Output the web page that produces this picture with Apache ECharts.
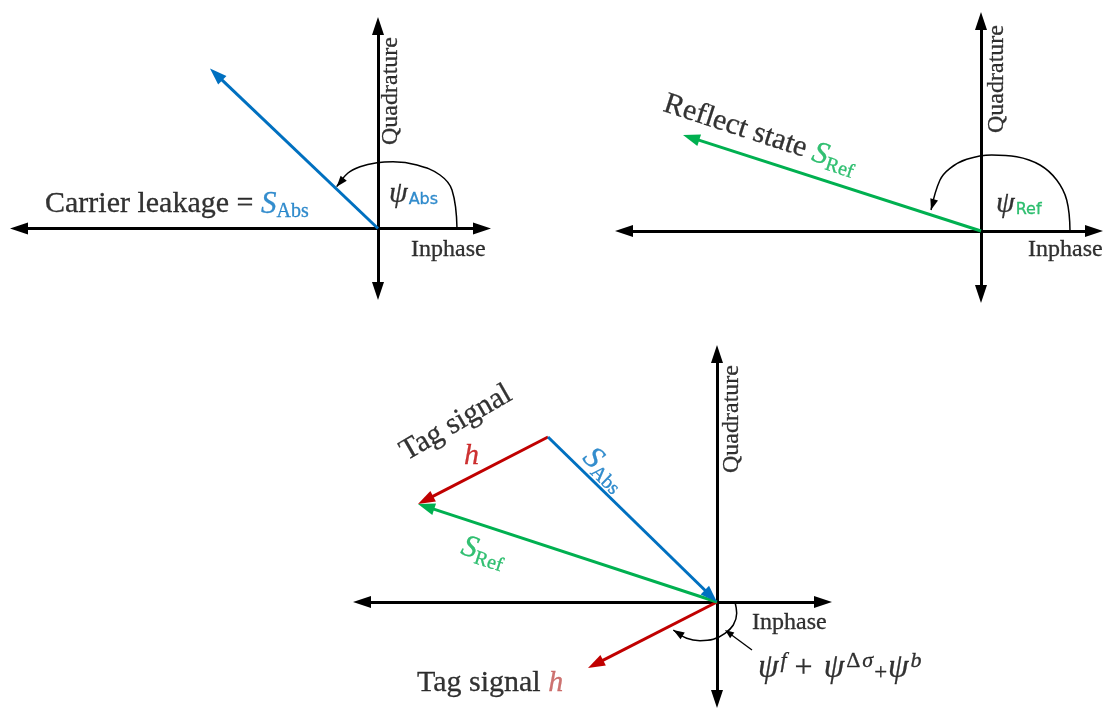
<!DOCTYPE html>
<html>
<head>
<meta charset="utf-8">
<script src="https://cdn.jsdelivr.net/npm/echarts@6/dist/echarts.min.js"></script>
<style>
  html, body { margin: 0; padding: 0; background: #fff; }
  #main { width: 1103px; height: 710px; }
</style>
</head>
<body>
<div id="main"></div>
<script>
// ---- Phasors (I, Q) ----
const leakageVector = [-1.68, 1.60];   // top-left panel: S_Abs
const reflectVector = [-2.98, 0.96];   // top-right panel: S_Ref
const sumAbsVector  = [-1.69, 1.65];   // bottom panel: S_Abs
const sumRefVector  = [-2.99, 0.98];   // bottom panel: S_Ref = S_Abs + h
const tagVector     = [-1.29, -0.66];  // bottom panel: h drawn from the origin

// ---- Angle arcs (I, Q points along each arc, last point is the arrow tip) ----
const psiAbsArc = [[0.79, 0.0], [0.74, 0.385], [0.62, 0.535], [0.39, 0.635], [0.15, 0.668],
                   [-0.01, 0.658], [-0.18, 0.618], [-0.30, 0.555], [-0.413, 0.418]];
const psiRefArc = [[0.89, 0.0], [0.857, 0.31], [0.757, 0.51], [0.59, 0.66], [0.357, 0.743],
                   [0.107, 0.76], [-0.143, 0.717], [-0.31, 0.627], [-0.41, 0.51], [-0.50, 0.21]];
const phaseArc  = [[0.18, 0.0], [0.197, -0.113], [0.163, -0.23], [0.08, -0.313], [-0.037, -0.373],
                   [-0.17, -0.387], [-0.303, -0.363], [-0.437, -0.28]];
const phasePointer = [[0.35, -0.48], [0.08, -0.28]];

// ---- Axis extents per panel: I range, Q range ----
const rangeA = { i: [-3.59, 1.04], q: [-0.625, 2.025] };
const rangeB = { i: [-3.57, 1.13], q: [-0.63, 2.10] };
const rangeC = { i: [-3.55, 1.06], q: [-0.97, 2.48] };

// ---- Layout (pixel origin of each panel, pixels per unit) ----
const PX = 100;
const originA = [378, 228.5];
const originB = [981, 231];
const originC = [717, 602];

const BLUE = '#0070C0', GREEN = '#00B050', RED = '#C00000', SOFT_RED = '#C0504D', BLACK = '#000';
const SERIF = "'Liberation Serif', 'Times New Roman', serif";
const SANS = "'DejaVu Sans', 'Noto Sans', sans-serif";

function gridFor(origin, r) {
  return {
    left: origin[0] + r.i[0] * PX,
    top: origin[1] - r.q[1] * PX,
    width: (r.i[1] - r.i[0]) * PX,
    height: (r.q[1] - r.q[0]) * PX,
    containLabel: false
  };
}

function arrowAxis(idx, ext) {
  return {
    type: 'value', gridIndex: idx, min: ext[0], max: ext[1],
    axisLine: {
      show: true, onZero: true,
      symbol: ['triangle', 'triangle'], symbolSize: [12, 18],
      lineStyle: { color: BLACK, width: 3 }
    },
    axisTick: { show: false }, axisLabel: { show: false }, splitLine: { show: false }
  };
}

// Straight phasor with a filled triangular head whose tip sits on the end point.
function arrowRenderer(color, lineWidth, headLen, headWidth, drawShaft) {
  return function (params, api) {
    const a = api.coord([api.value(0), api.value(1)]);
    const b = api.coord([api.value(2), api.value(3)]);
    const dx = b[0] - a[0], dy = b[1] - a[1];
    const len = Math.hypot(dx, dy) || 1;
    const ux = dx / len, uy = dy / len;
    const bx = b[0] - ux * headLen, by = b[1] - uy * headLen;
    const hw = headWidth / 2;
    const children = [];
    if (drawShaft) {
      children.push({
        type: 'line',
        shape: { x1: a[0], y1: a[1], x2: bx + ux * 2, y2: by + uy * 2 },
        style: { stroke: color, lineWidth: lineWidth, lineCap: 'butt' }
      });
    }
    children.push({
      type: 'polygon',
      shape: { points: [[b[0], b[1]], [bx - uy * hw, by + ux * hw], [bx + uy * hw, by - ux * hw]] },
      style: { fill: color }
    });
    return { type: 'group', children: children };
  };
}

function vectorSeries(g, from, to, color) {
  return {
    type: 'custom', xAxisIndex: g, yAxisIndex: g, clip: false, silent: true, z: 3,
    renderItem: arrowRenderer(color, 3, 17, 12, true),
    encode: { x: [0, 2], y: [1, 3] },
    data: [[from[0], from[1], to[0], to[1]]]
  };
}

function arcSeries(g, pts) {
  const n = pts.length;
  return [
    {
      type: 'line', xAxisIndex: g, yAxisIndex: g, smooth: 0.4, showSymbol: false, silent: true, z: 3,
      lineStyle: { color: BLACK, width: 1.5 }, data: pts
    },
    {
      type: 'custom', xAxisIndex: g, yAxisIndex: g, clip: false, silent: true, z: 4,
      renderItem: arrowRenderer(BLACK, 1.5, 11, 8, false),
      encode: { x: [0, 2], y: [1, 3] },
      data: [[pts[n - 2][0], pts[n - 2][1], pts[n - 1][0], pts[n - 1][1]]]
    }
  ];
}

// Rich text styles: main glyphs are top-aligned in the line, subscripts are pushed
// down with top padding; in the formula everything is bottom-aligned and the
// superscripts are lifted with bottom padding.
const RICH = {
  t:    { fontFamily: SERIF, fontSize: 30, color: BLACK, lineHeight: 30, verticalAlign: 'top' },
  sB:   { fontFamily: SERIF, fontStyle: 'italic', fontSize: 31, color: BLUE, lineHeight: 30, verticalAlign: 'top' },
  subB: { fontFamily: SERIF, fontSize: 20, color: BLUE, lineHeight: 33, padding: [13, 0, 0, 0], verticalAlign: 'top' },
  sG:   { fontFamily: SERIF, fontStyle: 'italic', fontSize: 31, color: GREEN, lineHeight: 30, verticalAlign: 'top' },
  subG: { fontFamily: SERIF, fontSize: 20, color: GREEN, lineHeight: 33, padding: [13, 0, 0, 0], verticalAlign: 'top' },
  psi:  { fontFamily: SERIF, fontStyle: 'italic', fontSize: 30, color: BLACK, lineHeight: 30, verticalAlign: 'top' },
  pB:   { fontFamily: SANS, fontSize: 16, color: BLUE, lineHeight: 29, padding: [13, 0, 0, 1], verticalAlign: 'top' },
  pG:   { fontFamily: SANS, fontSize: 16, color: GREEN, lineHeight: 29, padding: [13, 0, 0, 1], verticalAlign: 'top' },
  hR:   { fontFamily: SERIF, fontStyle: 'italic', fontSize: 30, color: RED, lineHeight: 30, verticalAlign: 'top' },
  hS:   { fontFamily: SERIF, fontStyle: 'italic', fontSize: 30, color: SOFT_RED, lineHeight: 30, verticalAlign: 'top' },
  ax:   { fontFamily: SERIF, fontSize: 24, color: BLACK, lineHeight: 24, verticalAlign: 'top' },
  fm:   { fontFamily: SERIF, fontStyle: 'italic', fontSize: 33, color: BLACK, lineHeight: 33, verticalAlign: 'bottom' },
  fp:   { fontFamily: SERIF, fontSize: 32, color: BLACK, lineHeight: 33, padding: [0, 11, 0, 8], verticalAlign: 'bottom' },
  fs:   { fontFamily: SERIF, fontSize: 23, color: BLACK, lineHeight: 23, padding: [0, 1, 0, 1], verticalAlign: 'bottom' },
  up:   { fontFamily: SERIF, fontStyle: 'italic', fontSize: 22, color: BLACK, lineHeight: 34, padding: [0, 0, 12, 2], verticalAlign: 'bottom' },
  upR:  { fontFamily: SERIF, fontSize: 22, color: BLACK, lineHeight: 34, padding: [0, 0, 12, 2], verticalAlign: 'bottom' }
};
// A hairline outline in the glyph colour gives the printed weight of the labels.
Object.keys(RICH).forEach(function (k) {
  RICH[k].textBorderColor = RICH[k].color;
  RICH[k].textBorderWidth = 0.3;
});

function labelSeries(g, items) {
  return {
    type: 'scatter', xAxisIndex: g, yAxisIndex: g, symbolSize: 0, silent: true, z: 6,
    itemStyle: { color: BLACK },
    emphasis: { disabled: true },
    data: items.map(function (it) {
      return {
        value: it.at,
        label: {
          show: true, position: 'inside', formatter: it.text, rotate: it.rotate || 0,
          align: 'left', verticalAlign: 'top', rich: RICH,
          fontFamily: SERIF, fontSize: 30, color: BLACK
        }
      };
    })
  };
}

const series = [];

// Top-left: carrier leakage S_Abs with its phase psi_Abs
series.push(vectorSeries(0, [0, 0], leakageVector, BLUE));
series.push.apply(series, arcSeries(0, psiAbsArc));
series.push(labelSeries(0, [
  { at: [-3.33, 0.395], text: '{t|Carrier leakage = }{sB|S}{subB|Abs}' },
  { at: [0.11, 0.495], text: '{psi|ψ}{pB|Abs}' },
  { at: [0.33, -0.095], text: '{ax|Inphase}' },
  { at: [0.01, 0.835], text: '{ax|Quadrature}', rotate: 90 }
]));

// Top-right: reflect state S_Ref with its phase psi_Ref
series.push(vectorSeries(1, [0, 0], reflectVector, GREEN));
series.push.apply(series, arcSeries(1, psiRefArc));
series.push(labelSeries(1, [
  { at: [-3.12, 1.42], text: '{t|Reflect state }{sG|S}{subG|Ref}', rotate: -18 },
  { at: [0.15, 0.42], text: '{psi|ψ}{pG|Ref}' },
  { at: [0.47, -0.07], text: '{ax|Inphase}' },
  { at: [0.04, 0.98], text: '{ax|Quadrature}', rotate: 90 }
]));

// Bottom: S_Ref = S_Abs + h, and the tag signal h from the origin
series.push(vectorSeries(2, [0, 0], tagVector, RED));
series.push(vectorSeries(2, sumAbsVector, sumRefVector, RED));
series.push(vectorSeries(2, [0, 0], sumRefVector, GREEN));
series.push(vectorSeries(2, sumAbsVector, [0, 0], BLUE));
series.push.apply(series, arcSeries(2, phaseArc));
series.push({
  type: 'custom', xAxisIndex: 2, yAxisIndex: 2, clip: false, silent: true, z: 4,
  renderItem: arrowRenderer(BLACK, 1.3, 9, 7, true),
  encode: { x: [0, 2], y: [1, 3] },
  data: [[phasePointer[0][0], phasePointer[0][1], phasePointer[1][0], phasePointer[1][1]]]
});
series.push(labelSeries(2, [
  { at: [-3.22, 1.61], text: '{t|Tag signal}', rotate: 30 },
  { at: [-2.53, 1.61], text: '{hR|h}' },
  { at: [-1.19, 1.60], text: '{sB|S}{subB|Abs}', rotate: -44 },
  { at: [-2.50, 0.71], text: '{sG|S}{subG|Ref}', rotate: -18 },
  { at: [-3.00, -0.66], text: '{t|Tag signal }{hS|h}' },
  { at: [0.41, -0.485], text: '{fm|ψ}{up|f}{fp|+}{fm|ψ}{upR|Δ}{up|σ}{fs|+}{fm|ψ}{up|b}' },
  { at: [0.35, -0.09], text: '{ax|Inphase}' },
  { at: [0.03, 1.29], text: '{ax|Quadrature}', rotate: 90 }
]));

const chart = echarts.init(document.getElementById('main'), null, { renderer: 'canvas' });
chart.setOption({
  backgroundColor: '#fff',
  animation: false,
  grid: [gridFor(originA, rangeA), gridFor(originB, rangeB), gridFor(originC, rangeC)],
  xAxis: [arrowAxis(0, rangeA.i), arrowAxis(1, rangeB.i), arrowAxis(2, rangeC.i)],
  yAxis: [arrowAxis(0, rangeA.q), arrowAxis(1, rangeB.q), arrowAxis(2, rangeC.q)],
  series: series
});
</script>
</body>
</html>
